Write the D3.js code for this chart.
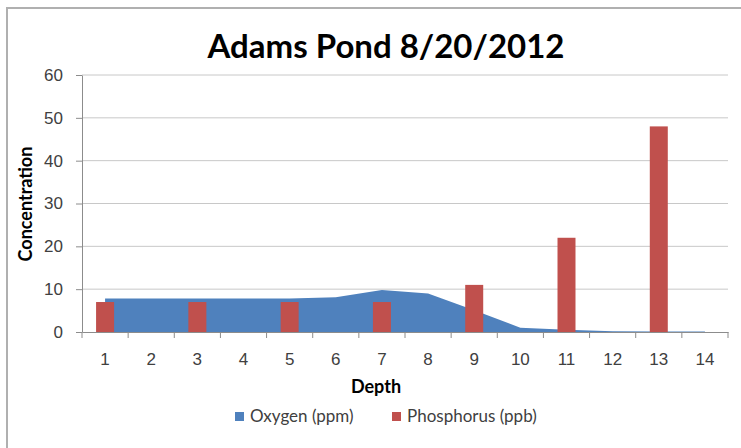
<!DOCTYPE html>
<html lang="en">
<head>
    <meta charset="UTF-8">
    <title>Adams Pond 8/20/2012</title>
    <script src="https://d3js.org/d3.v7.min.js"></script>
    <style>
        body { margin: 0; background: #fff; }
        svg { display: block; font-family: Lato, "Open Sans", sans-serif; }
        .axis text { fill: #404040; font-size: 17px; }
        .axis path, .axis line { stroke: #8c8c8c; }
        .grid line { stroke: #c8c8c8; }
    </style>
</head>
<body>
    <svg id="chart" width="741" height="448"></svg>

    <script>
        const depths = [1, 2, 3, 4, 5, 6, 7, 8, 9, 10, 11, 12, 13, 14];
        const oxygen = [7.8, 7.8, 7.8, 7.8, 7.8, 8.1, 9.8, 9.0, 5.1, 1.0, 0.5, 0.2, 0.1, 0.1];
        const phosDepths = [1, 3, 5, 7, 9, 11, 13];
        const phosphorus = [7, 7, 7, 7, 11, 22, 48];
        const yTicks = [0, 10, 20, 30, 40, 50, 60];

        const svg = d3.select("#chart");
        const margin = {top: 75, right: 13, bottom: 116, left: 82};
        const width = 741 - margin.left - margin.right,
              height = 448 - margin.top - margin.bottom;

        // outer chart border
        svg.append("rect")
            .attr("x", 7).attr("y", 8)
            .attr("width", 760).attr("height", 460)
            .attr("fill", "none")
            .attr("stroke", "#b0b0b0")
            .attr("stroke-width", 2);

        const g = svg.append("g").attr("transform", `translate(${margin.left},${margin.top})`);

        const x = d3.scaleBand()
            .domain(depths)
            .range([0, width]);

        const y = d3.scaleLinear()
            .domain([0, 60])
            .range([height, 0]);

        // gridlines
        g.append("g")
            .attr("class", "grid")
            .selectAll("line")
            .data(yTicks.slice(1))
            .enter().append("line")
            .attr("x1", 0).attr("x2", width)
            .attr("y1", d => y(d)).attr("y2", d => y(d));

        // oxygen area
        const area = d3.area()
            .x((d, i) => x(depths[i]) + x.bandwidth() / 2)
            .y0(y(0))
            .y1(d => y(d));

        g.append("path")
            .datum(oxygen)
            .attr("fill", "#4f81bd")
            .attr("d", area);

        // phosphorus bars
        const barW = x.bandwidth() * 0.39;
        g.append("g")
            .selectAll("rect")
            .data(phosphorus)
            .enter().append("rect")
            .attr("x", (d, i) => x(phosDepths[i]) + x.bandwidth() / 2 - barW / 2)
            .attr("y", d => y(d))
            .attr("width", barW)
            .attr("height", d => y(0) - y(d))
            .attr("fill", "#c0504d");

        // axes
        const xAxis = g.append("g")
            .attr("class", "axis")
            .attr("transform", `translate(0,${height})`)
            .call(d3.axisBottom(x).tickSize(0).tickPadding(21));

        // tick marks between categories
        xAxis.selectAll(".sep")
            .data(d3.range(depths.length + 1))
            .enter().append("line")
            .attr("class", "sep")
            .attr("x1", i => i * x.step()).attr("x2", i => i * x.step())
            .attr("y1", 0).attr("y2", 6);

        g.append("g")
            .attr("class", "axis")
            .call(d3.axisLeft(y).tickValues(yTicks).tickSize(6).tickSizeOuter(0).tickPadding(13));

        // titles
        svg.append("text")
            .attr("x", 386).attr("y", 58)
            .attr("text-anchor", "middle")
            .style("font-size", "33px")
            .style("font-weight", "bold")
            .attr("fill", "#000")
            .text("Adams Pond 8/20/2012");

        svg.append("text")
            .attr("x", 376).attr("y", 393)
            .attr("text-anchor", "middle")
            .style("font-size", "18px")
            .style("font-weight", "bold")
            .attr("fill", "#000")
            .text("Depth");

        svg.append("text")
            .attr("transform", "translate(32,204) rotate(-90)")
            .attr("text-anchor", "middle")
            .style("font-size", "18px")
            .style("font-weight", "bold")
            .attr("fill", "#000")
            .text("Concentration");

        // legend
        const legendItems = [
            {name: "Oxygen (ppm)", color: "#4f81bd", x: 235},
            {name: "Phosphorus (ppb)", color: "#c0504d", x: 392}
        ];
        const legend = svg.append("g")
            .selectAll("g")
            .data(legendItems)
            .enter().append("g")
            .attr("transform", d => `translate(${d.x},412)`);

        legend.append("rect")
            .attr("width", 9).attr("height", 9)
            .attr("fill", d => d.color);

        legend.append("text")
            .attr("x", 15).attr("y", 10)
            .style("font-size", "17px")
            .attr("fill", "#404040")
            .text(d => d.name);
    </script>
</body>
</html>
